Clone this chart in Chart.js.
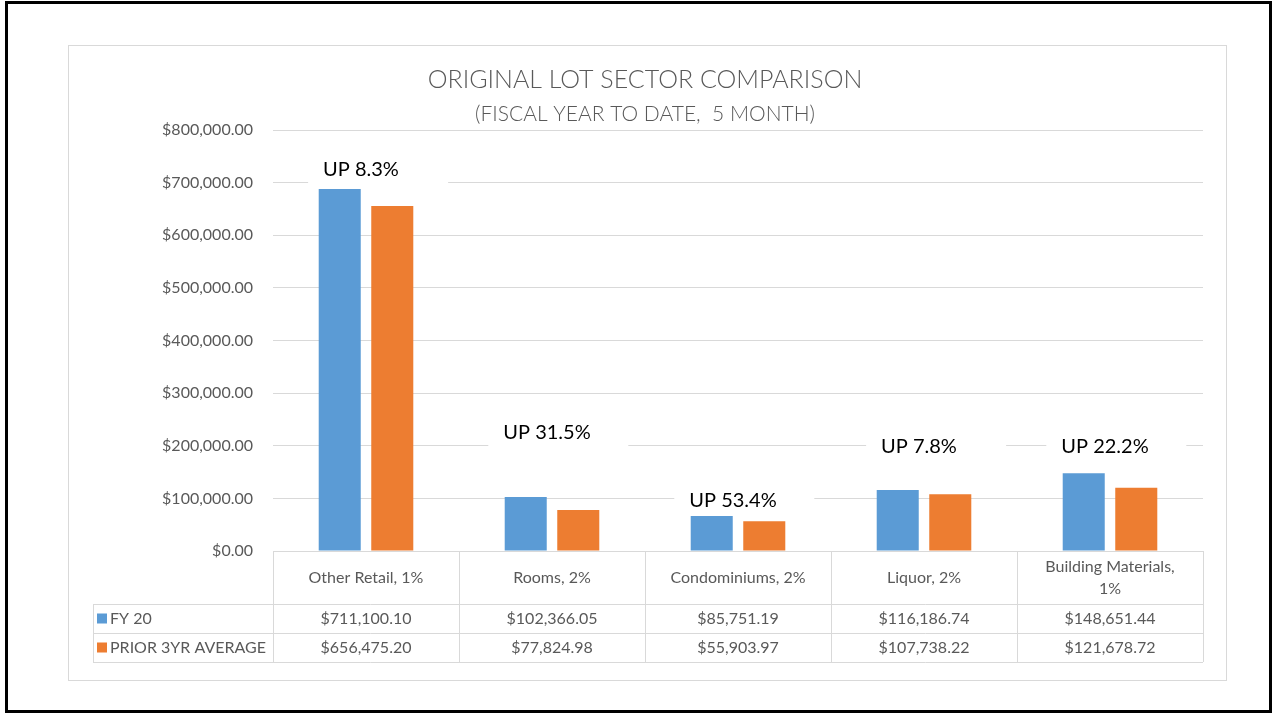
<!DOCTYPE html>
<html>
<head>
<meta charset="utf-8">
<script src="https://cdn.jsdelivr.net/npm/chart.js@4/dist/chart.umd.min.js"></script>
<style>
  html, body { margin: 0; padding: 0; background: #fff; }
  #wrap { width: 1276px; height: 715px; }
</style>
</head>
<body>
<div id="wrap"><canvas id="chart"></canvas></div>
<script>
const categories = ["Other Retail, 1%", "Rooms, 2%", "Condominiums, 2%", "Liquor, 2%", ["Building Materials,", "1%"]];
const fy20Values = [687900, 102600, 66500, 115900, 147600];
const priorAvgValues = [655600, 77900, 56400, 107700, 120300];
const fy20TableText = ["$711,100.10", "$102,366.05", "$85,751.19", "$116,186.74", "$148,651.44"];
const priorAvgTableText = ["$656,475.20", "$77,824.98", "$55,903.97", "$107,738.22", "$121,678.72"];
const gainLabels = ["UP 8.3%", "UP 31.5%", "UP 53.4%", "UP 7.8%", "UP 22.2%"];
const seriesNames = ["FY 20", "PRIOR 3YR AVERAGE"];
const yTicks = [0, 100000, 200000, 300000, 400000, 500000, 600000, 700000, 800000];

// y level (axis units) where each "UP x%" box sits
const gainLabelLevels = [724000, 226000, 95000, 197600, 197600];

const FONT = "Lato, 'Open Sans', sans-serif";
const GRAY_TEXT = "#595959";
const LINE = "#d9d9d9";
const BLUE = "#5b9bd5";
const ORANGE = "#ed7d31";

const money = (v) =>
  "$" + v.toLocaleString("en-US", { minimumFractionDigits: 2, maximumFractionDigits: 2 });

// frame, titles
const framePlugin = {
  id: "frame",
  beforeDraw(chart) {
    const ctx = chart.ctx;
    ctx.save();
    ctx.fillStyle = "#fff";
    ctx.fillRect(0, 0, chart.width, chart.height);
    ctx.strokeStyle = "#000";
    ctx.lineWidth = 3;
    ctx.strokeRect(6.5, 2.5, 1264, 709);
    ctx.strokeStyle = LINE;
    ctx.lineWidth = 1;
    ctx.strokeRect(68.5, 45.5, 1158, 635);

    ctx.fillStyle = GRAY_TEXT;
    ctx.textAlign = "center";
    ctx.textBaseline = "middle";
    ctx.font = "300 25px " + FONT;
    ctx.fillText("ORIGINAL LOT SECTOR COMPARISON", 645, 80);
    ctx.font = "300 21px " + FONT;
    ctx.fillText("(FISCAL YEAR TO DATE,  5 MONTH)", 645, 114);
    ctx.restore();
  },
};

// "UP x%" text boxes that sit over the gridlines
const gainPlugin = {
  id: "gains",
  afterDatasetsDraw(chart) {
    const ctx = chart.ctx;
    const x = chart.scales.x;
    const y = chart.scales.y;
    ctx.save();
    ctx.font = "20px " + FONT;
    ctx.textBaseline = "middle";
    ctx.textAlign = "left";
    gainLabels.forEach((label, i) => {
      const cx = x.getPixelForValue(i) - 5;
      const cy = y.getPixelForValue(gainLabelLevels[i]);
      const w = ctx.measureText(label).width;
      const left = cx - w / 2;
      ctx.fillStyle = "#fff";
      ctx.fillRect(left - 15, cy - 14, 140, 28);
      ctx.fillStyle = "#000";
      ctx.fillText(label, left, cy);
    });
    ctx.restore();
  },
};

// data table under the plot
const tablePlugin = {
  id: "dataTable",
  afterDraw(chart) {
    const ctx = chart.ctx;
    const x = chart.scales.x;
    const area = chart.chartArea;
    const colW = (area.right - area.left) / categories.length;
    const top = area.bottom;
    const rows = [top, top + 53, top + 82, top + 111];
    const legendLeft = 93;

    ctx.save();
    ctx.strokeStyle = LINE;
    ctx.lineWidth = 1;
    ctx.beginPath();
    ctx.moveTo(area.left, rows[0] + 0.5);
    ctx.lineTo(area.right, rows[0] + 0.5);
    for (let r = 1; r < rows.length; r++) {
      ctx.moveTo(legendLeft, rows[r] + 0.5);
      ctx.lineTo(area.right, rows[r] + 0.5);
    }
    for (let c = 0; c <= categories.length; c++) {
      const cx = Math.round(area.left + c * colW) + 0.5;
      ctx.moveTo(cx, rows[0]);
      ctx.lineTo(cx, rows[3]);
    }
    ctx.moveTo(legendLeft + 0.5, rows[1]);
    ctx.lineTo(legendLeft + 0.5, rows[3]);
    ctx.stroke();

    ctx.fillStyle = GRAY_TEXT;
    ctx.font = "16px " + FONT;
    ctx.textAlign = "center";
    ctx.textBaseline = "middle";
    categories.forEach((cat, i) => {
      const cx = x.getPixelForValue(i);
      const lines = Array.isArray(cat) ? cat : [cat];
      const mid = (rows[0] + rows[1]) / 2;
      lines.forEach((ln, k) => {
        ctx.fillText(ln, cx, mid + (k - (lines.length - 1) / 2) * 22);
      });
      ctx.fillText(fy20TableText[i], cx, (rows[1] + rows[2]) / 2);
      ctx.fillText(priorAvgTableText[i], cx, (rows[2] + rows[3]) / 2);
    });

    const colors = [BLUE, ORANGE];
    ctx.textAlign = "left";
    seriesNames.forEach((name, r) => {
      const my = (rows[r + 1] + rows[r + 2]) / 2;
      ctx.fillStyle = colors[r];
      ctx.fillRect(97, my - 5, 10, 10);
      ctx.fillStyle = GRAY_TEXT;
      ctx.fillText(name, 110, my);
    });
    ctx.restore();
  },
};

new Chart(document.getElementById("chart"), {
  type: "bar",
  data: {
    labels: categories,
    datasets: [
      {
        label: seriesNames[0],
        data: fy20Values,
        backgroundColor: BLUE,
        categoryPercentage: 0.565,
        barPercentage: 0.8,
      },
      {
        label: seriesNames[1],
        data: priorAvgValues,
        backgroundColor: ORANGE,
        categoryPercentage: 0.565,
        barPercentage: 0.8,
      },
    ],
  },
  options: {
    responsive: true,
    maintainAspectRatio: false,
    animation: false,
    layout: { padding: { left: 0, right: 73, top: 130, bottom: 164 } },
    plugins: {
      legend: { display: false },
      title: { display: false },
      tooltip: { enabled: false },
    },
    scales: {
      x: {
        display: false,
      },
      y: {
        min: 0,
        max: 800000,
        afterBuildTicks: (scale) => {
          scale.ticks = yTicks.map((v) => ({ value: v }));
        },
        afterFit: (scale) => {
          scale.width = 273;
        },
        border: { display: false },
        grid: { color: LINE, drawTicks: false },
        ticks: {
          padding: 20,
          color: GRAY_TEXT,
          font: { family: FONT, size: 16 },
          callback: (v) => money(v),
        },
      },
    },
  },
  plugins: [framePlugin, gainPlugin, tablePlugin],
});
</script>
</body>
</html>
